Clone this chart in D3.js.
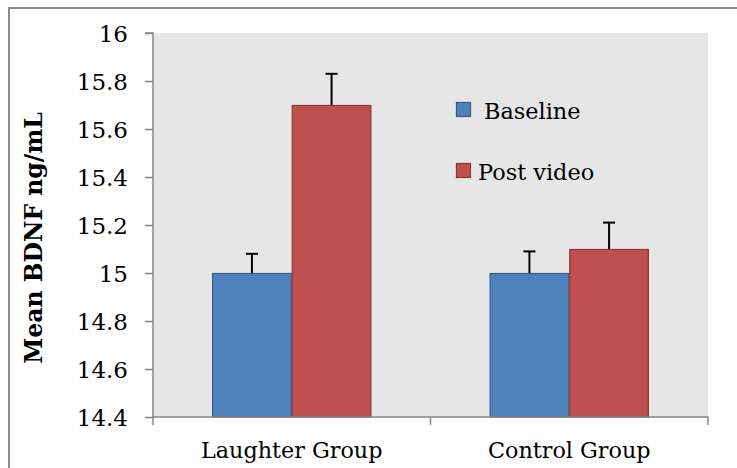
<!DOCTYPE html>
<html><head><meta charset="utf-8">
<script src="https://cdn.jsdelivr.net/npm/d3@7"></script>
<style>body{margin:0;background:#fff}svg{display:block}</style>
</head><body>
<svg id="c" width="737" height="468"></svg>
<script>
const categories = ["Laughter Group", "Control Group"];
const seriesNames = ["Baseline", "Post video"];
const baselineValues = [15.0, 15.0];
const postVideoValues = [15.7, 15.1];
const baselineErrors = [0.08, 0.09];
const postVideoErrors = [0.13, 0.11];
const yTicks = [14.4, 14.6, 14.8, 15, 15.2, 15.4, 15.6, 15.8, 16];
const colors = ["#4f81bd", "#c0504d"];
const strokes = ["#385d8a", "#8c3836"];

const svg = d3.select("#c");
const font = "'DejaVu Serif', serif";
const L = 153, R = 708, T = 33, B = 417;

// outer frame
svg.append("line").attr("x1", 8).attr("x2", 737).attr("y1", 8).attr("y2", 8).attr("stroke", "#8a8a8a").attr("stroke-width", 2);
svg.append("line").attr("x1", 9).attr("x2", 9).attr("y1", 7).attr("y2", 468).attr("stroke", "#8a8a8a").attr("stroke-width", 2);

svg.append("rect").attr("x", L).attr("y", T).attr("width", R - L).attr("height", B - T).attr("fill", "#e6e6e6");

const y = d3.scaleLinear().domain([14.4, 16]).range([B, T]);
const x0 = d3.scaleBand().domain(categories).range([L, R]).padding(0);
const x1 = d3.scaleBand().domain(seriesNames).range([0, x0.bandwidth()]).paddingInner(0).paddingOuter(0.742);

const data = categories.map((c, i) => ({
  cat: c,
  vals: [
    {s: seriesNames[0], v: baselineValues[i], e: baselineErrors[i], k: 0},
    {s: seriesNames[1], v: postVideoValues[i], e: postVideoErrors[i], k: 1}
  ]
}));

const g = svg.selectAll("g.grp").data(data).enter().append("g")
  .attr("transform", d => `translate(${x0(d.cat)},0)`);
g.selectAll("rect").data(d => d.vals).enter().append("rect")
  .attr("x", d => x1(d.s) + 0.5).attr("y", d => y(d.v) + 0.5)
  .attr("width", x1.bandwidth() - 1).attr("height", d => B - y(d.v) - 0.5)
  .attr("fill", d => colors[d.k]).attr("stroke", d => strokes[d.k]).attr("stroke-width", 1.2);
// error bars
g.selectAll("line.err").data(d => d.vals).enter().append("line")
  .attr("x1", d => x1(d.s) + x1.bandwidth() / 2).attr("x2", d => x1(d.s) + x1.bandwidth() / 2)
  .attr("y1", d => y(d.v)).attr("y2", d => y(d.v + d.e))
  .attr("stroke", "#000").attr("stroke-width", 2);
g.selectAll("line.cap").data(d => d.vals).enter().append("line")
  .attr("x1", d => x1(d.s) + x1.bandwidth() / 2 - 6).attr("x2", d => x1(d.s) + x1.bandwidth() / 2 + 6)
  .attr("y1", d => y(d.v + d.e)).attr("y2", d => y(d.v + d.e))
  .attr("stroke", "#000").attr("stroke-width", 2);

// y axis
const yAxis = d3.axisLeft(y).tickValues(yTicks).tickSize(8).tickPadding(17).tickFormat(d => String(d));
const ya = svg.append("g").attr("transform", `translate(${L},0)`).call(yAxis);
ya.select(".domain").attr("stroke", "#868686").attr("stroke-width", 1.5).attr("d", `M-8,${T}H0V${B}`);
ya.selectAll(".tick line").attr("stroke", "#868686").attr("stroke-width", 1.5);
ya.selectAll(".tick text").attr("font-family", font).attr("font-size", 23).attr("fill", "#000").attr("dy", "0.36em");

// x axis
const xa = svg.append("g").attr("transform", `translate(0,${B})`).call(d3.axisBottom(x0).tickSize(0).tickPadding(25));
xa.select(".domain").attr("stroke", "#868686").attr("stroke-width", 1.5).attr("d", `M${L},8V0H${R}V8`);
xa.selectAll(".tick text").attr("font-family", font).attr("font-size", 22.3).attr("fill", "#000");
svg.append("line").attr("x1", (L + R) / 2).attr("x2", (L + R) / 2).attr("y1", B).attr("y2", B + 8).attr("stroke", "#868686").attr("stroke-width", 1.5);

// y label
svg.append("text").attr("transform", "translate(42,238) rotate(-90)").attr("text-anchor", "middle")
  .attr("font-family", font).attr("font-weight", "bold").attr("font-size", 23.5).text("Mean BDNF ng/mL");

// legend
const leg = svg.append("g");
const legY = [110, 171];
const legX = [484, 478];
seriesNames.forEach((s, i) => {
  leg.append("rect").attr("x", 456.5).attr("y", legY[i] - 7.5).attr("width", 14).attr("height", 14)
    .attr("fill", colors[i]).attr("stroke", strokes[i]).attr("stroke-width", 1.2);
  leg.append("text").attr("x", legX[i]).attr("y", legY[i] + 9).attr("font-family", font).attr("font-size", 22.4).text(s);
});
</script>
</body></html>
